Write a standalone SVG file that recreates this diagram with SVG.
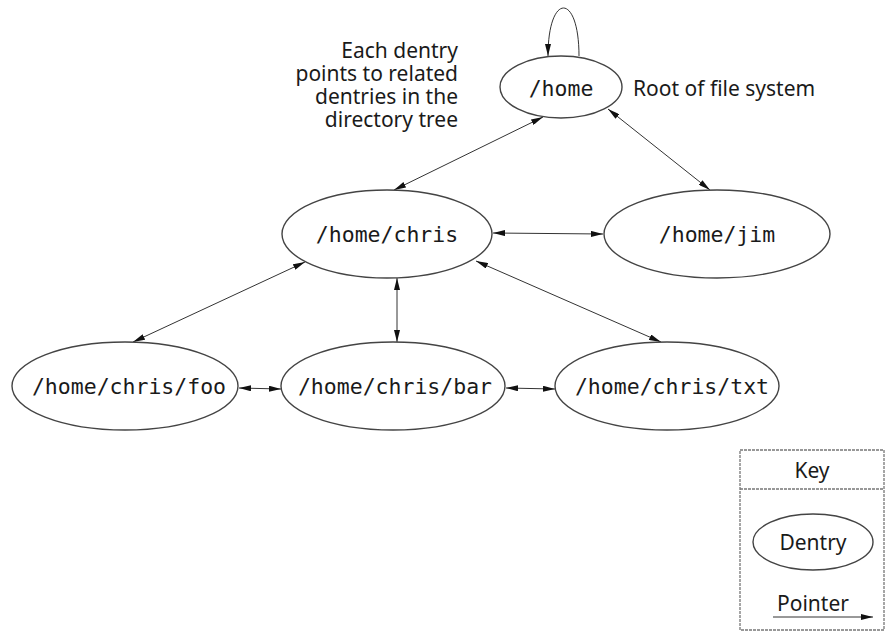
<svg xmlns="http://www.w3.org/2000/svg" width="886" height="639" viewBox="0 0 886 639">
<style>
.node ellipse{fill:#fff;stroke:#444;stroke-width:1.4}
.mono{font-family:"DejaVu Sans Mono","Liberation Mono",monospace;font-size:21.5px;fill:#1a1a1a;text-anchor:middle}
.sans{font-family:"Noto Sans","Open Sans","Liberation Sans",sans-serif;font-size:21px;fill:#1a1a1a}
.conn path,.conn line{stroke:#333;stroke-width:1;fill:none}
.box{fill:none;stroke:#777;stroke-width:1.3;stroke-dasharray:3 1}
</style>
<defs>
<marker id="ah" viewBox="0 0 12 6" refX="12" refY="3" markerWidth="12" markerHeight="6" markerUnits="userSpaceOnUse" orient="auto-start-reverse">
<path d="M0,0 L12,3 L0,6 z" fill="#111"/>
</marker>
</defs>
<rect width="886" height="639" fill="#fff"/>

<g class="conn">
<path d="M579,56 C579,-8 548,-8 548,56" marker-end="url(#ah)"/>
<line x1="543" y1="117" x2="394" y2="190" marker-start="url(#ah)" marker-end="url(#ah)"/>
<line x1="608" y1="109" x2="710" y2="190" marker-start="url(#ah)" marker-end="url(#ah)"/>
<line x1="493" y1="233" x2="603" y2="234" marker-start="url(#ah)" marker-end="url(#ah)"/>
<line x1="305" y1="262" x2="133" y2="342" marker-start="url(#ah)" marker-end="url(#ah)"/>
<line x1="397" y1="278" x2="397" y2="342" marker-start="url(#ah)" marker-end="url(#ah)"/>
<line x1="476" y1="261" x2="661" y2="342" marker-start="url(#ah)" marker-end="url(#ah)"/>
<line x1="239" y1="388" x2="281" y2="389" marker-start="url(#ah)" marker-end="url(#ah)"/>
<line x1="506" y1="388" x2="555" y2="389" marker-start="url(#ah)" marker-end="url(#ah)"/>
</g>

<g id="home" class="node">
<ellipse cx="561" cy="87" rx="61" ry="31"/>
<text class="mono" x="561" y="96">/home</text>
</g>
<g id="chris" class="node">
<ellipse cx="387" cy="234" rx="105" ry="44"/>
<text class="mono" x="387" y="242">/home/chris</text>
</g>
<g id="jim" class="node">
<ellipse cx="717" cy="234" rx="113" ry="44"/>
<text class="mono" x="717" y="242">/home/jim</text>
</g>
<g id="foo" class="node">
<ellipse cx="125" cy="386" rx="113" ry="44"/>
<text class="mono" x="129" y="394">/home/chris/foo</text>
</g>
<g id="bar" class="node">
<ellipse cx="393" cy="386" rx="112" ry="44"/>
<text class="mono" x="395" y="394">/home/chris/bar</text>
</g>
<g id="txt" class="node">
<ellipse cx="667" cy="386" rx="112" ry="44"/>
<text class="mono" x="672" y="394">/home/chris/txt</text>
</g>

<g id="annotation">
<text class="sans" text-anchor="end" x="458"><tspan x="458" y="58">Each dentry</tspan><tspan x="458" y="81">points to related</tspan><tspan x="458" y="104">dentries in the</tspan><tspan x="458" y="127">directory tree</tspan></text>
</g>
<g id="root-label">
<text class="sans" x="633" y="96">Root of file system</text>
</g>

<g id="key">
<rect class="box" x="740" y="450" width="144" height="180"/>
<line class="box" x1="740" y1="489" x2="884" y2="489"/>
<text class="sans" x="812" y="478" text-anchor="middle">Key</text>
<ellipse cx="813" cy="542" rx="60" ry="28" fill="#fff" stroke="#444" stroke-width="1.4"/>
<text class="sans" x="813" y="550" text-anchor="middle" font-size="22">Dentry</text>
<text class="sans" x="813" y="611" text-anchor="middle">Pointer</text>
<line x1="773" y1="617" x2="873" y2="617" stroke="#333" stroke-width="1" marker-end="url(#ah)"/>
</g>
</svg>
